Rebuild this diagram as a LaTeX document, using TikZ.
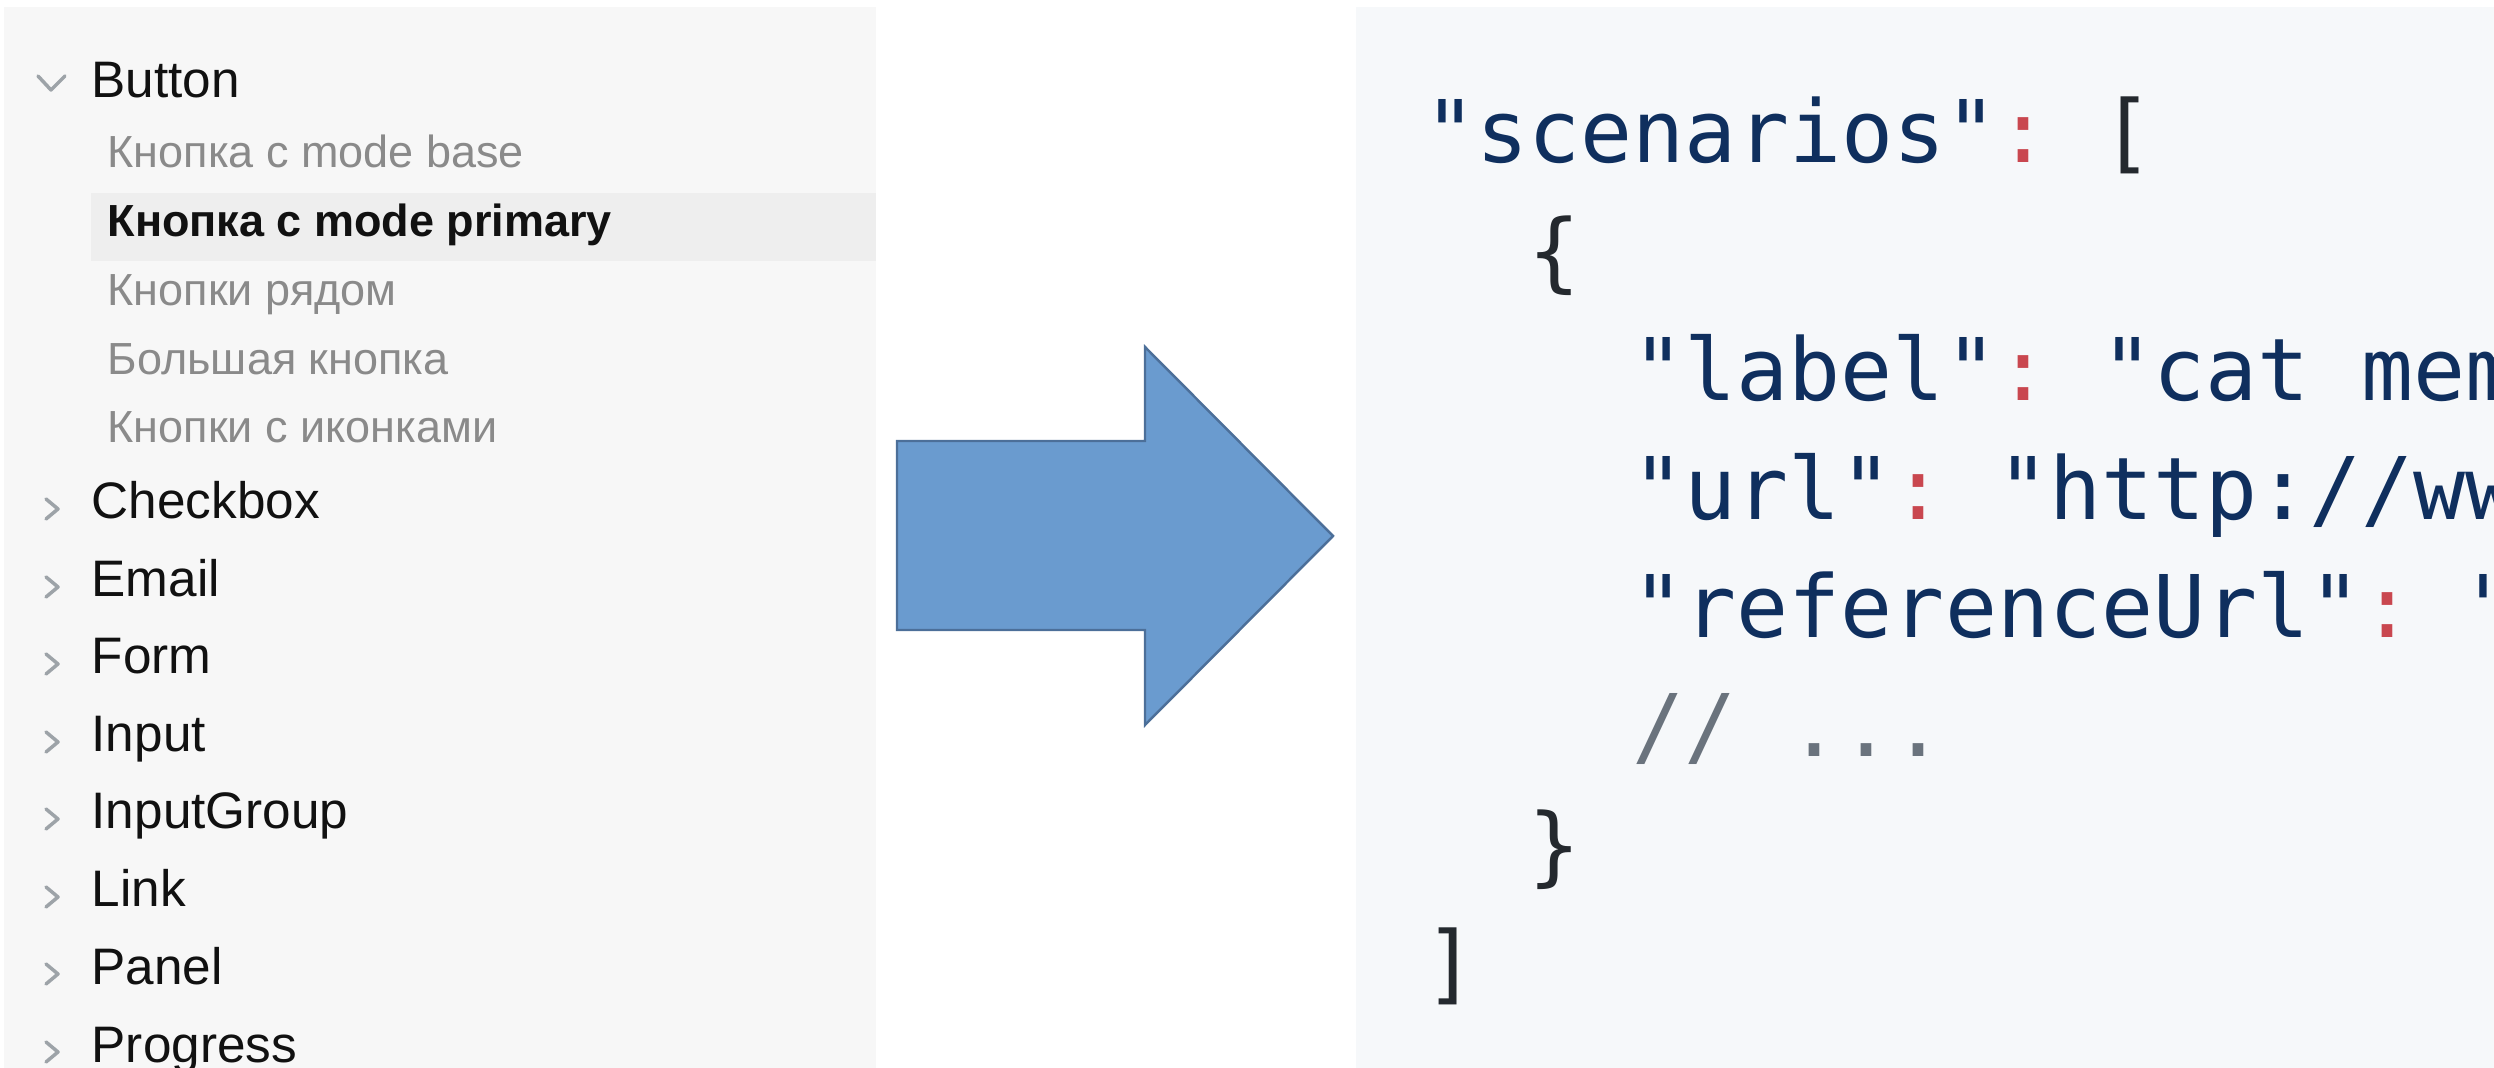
\documentclass[tikz,border=0pt]{standalone}
\usepackage{fontspec}
\setmainfont{Liberation Sans}
\setmonofont{DejaVu Sans Mono}
\usetikzlibrary{arrows.meta}

\definecolor{navbg}{HTML}{F7F7F7}
\definecolor{navsel}{HTML}{EEEEEE}
\definecolor{navtext}{HTML}{111111}
\definecolor{navgrey}{HTML}{8A8A8A}
\definecolor{chevgrey}{HTML}{9DA3A8}
\definecolor{arrowfill}{HTML}{6A9BCF}
\definecolor{arrowline}{HTML}{4C6F99}
\definecolor{codebg}{HTML}{F6F8FA}
\definecolor{jsonstr}{HTML}{0F2F5E}
\definecolor{jsonpun}{HTML}{C9474F}
\definecolor{jsonbr}{HTML}{24292E}
\definecolor{jsoncom}{HTML}{6A737D}

\newcommand{\jstr}[1]{\textcolor{jsonstr}{#1}}
\newcommand{\jcol}{\textcolor{jsonpun}{:}}
\newcommand{\jbr}[1]{\textcolor{jsonbr}{#1}}

\tikzset{
  navitem/.style={anchor=base west, inner sep=0pt, text=navtext,
    font=\fontsize{14.6}{17}\selectfont},
  navsub/.style={anchor=base west, inner sep=0pt, text=navgrey,
    font=\fontsize{12.8}{15}\selectfont},
  navchev/.style={draw=chevgrey, line width=1pt, line cap=round, line join=round},
  codeline/.style={anchor=base west, inner sep=0pt,
    font=\ttfamily\fontsize{24.6}{30}\selectfont},
  bigarrow/.style={fill=arrowfill, draw=arrowline, line width=0.7pt}
}

\begin{document}
\begin{tikzpicture}[x=0.1mm,y=-0.1mm]
        \useasboundingbox (0,0) rectangle (2494,1068);

        % left side panel
        \fill[navbg] (4,7) rectangle (876,1068);
        \fill[navsel] (91,193) rectangle (876,261);

        \begin{scope}
        \clip (4,7) rectangle (876,1068);

        % left side open item
        \node[navitem] (button) at (91,98) {Button};
        \draw[navchev] (38,76) -- (51,90) -- (65,76);

        % left side sub items
        \node[navsub] (btnBase) at (107,168) {Кнопка с mode base};
        \node[navsub, text=navtext, font=\fontsize{12.8}{15}\selectfont\bfseries] (btnPrimary) at (107,237) {Кнопка с mode primary};
        \node[navsub] (btnRow) at (107,306) {Кнопки рядом};
        \node[navsub] (btnBig) at (107,375) {Большая кнопка};
        \node[navsub] (btnIcons) at (107,443) {Кнопки с иконками};

        % left side closed items
        \node[navitem] (checkbox) at (91,519) {Checkbox};
        \node[navitem] (email) at (91,597) {Email};
        \node[navitem] (form) at (91,674) {Form};
        \node[navitem] (input) at (91,752) {Input};
        \node[navitem] (inputGroup) at (91,829) {InputGroup};
        \node[navitem] (link) at (91,907) {Link};
        \node[navitem] (panel) at (91,984) {Panel};
        \node[navitem] (progress) at (91,1062) {Progress};

        % left side chevrons of closed items
        \draw[navchev] (46,499) -- (58,509) -- (46,519);
        \draw[navchev] (46,577) -- (58,587) -- (46,597);
        \draw[navchev] (46,654) -- (58,664) -- (46,674);
        \draw[navchev] (46,732) -- (58,742) -- (46,752);
        \draw[navchev] (46,809) -- (58,819) -- (46,829);
        \draw[navchev] (46,887) -- (58,897) -- (46,907);
        \draw[navchev] (46,964) -- (58,974) -- (46,984);
        \draw[navchev] (46,1042) -- (58,1052) -- (46,1062);
        \end{scope}

        % ================== Middle arrow ==================
        \draw[bigarrow] (897,441) -- (1145,441) -- (1145,347) -- (1333,536)
            -- (1145,725) -- (1145,630) -- (897,630) -- cycle;
        % ==================================================

        % right side panel
        \fill[codebg] (1356,7) rectangle (2494,1068);

        \begin{scope}
        \clip (1356,7) rectangle (2494,1068);

        % right side code lines
        \node[codeline] (scenarios) at (1424,163) {\jstr{"scenarios"}\jcol{} \jbr{[}};
        \node[codeline] (openBrace) at (1528,282) {\jbr{\{}};
        \node[codeline] (label) at (1632,401) {\jstr{"label"}\jcol{} \jstr{"cat mem}};
        \node[codeline] (url) at (1632,520) {\jstr{"url"}\jcol{} \jstr{"http://ww}};
        \node[codeline] (refUrl) at (1632,638) {\jstr{"referenceUrl"}\jcol{} \jstr{"}};
        \node[codeline, text=jsoncom] (comment) at (1632,757) {// ...};
        \node[codeline] (closeBrace) at (1528,876) {\jbr{\}}};
        \node[codeline] (closeBracket) at (1424,994) {\jbr{]}};
        \end{scope}

\end{tikzpicture}
\end{document}
